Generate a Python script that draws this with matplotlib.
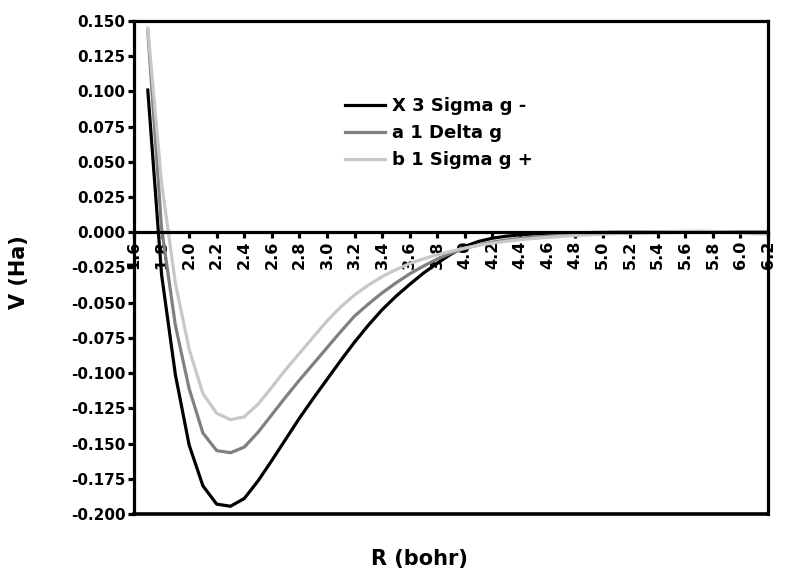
import numpy as np
import matplotlib
matplotlib.use("Agg")
import matplotlib.pyplot as plt

# R grid (bohr) and potential curves (Ha)
R = [1.7, 1.8, 1.9, 2.0, 2.1, 2.2, 2.3, 2.4, 2.5, 2.6,
     2.7, 2.8, 2.9, 3.0, 3.1, 3.2, 3.3, 3.4, 3.5, 3.6,
     3.7, 3.8, 3.9, 4.0, 4.1, 4.2, 4.3, 4.4, 4.5, 4.6,
     4.7, 4.8, 4.9, 5.0, 5.1, 5.2, 5.3, 5.4, 5.5, 5.6,
     5.7, 5.8, 5.9, 6.0, 6.1, 6.2]

X_sigma = [0.101, -0.030, -0.101, -0.151, -0.180, -0.1930, -0.1945, -0.1890, -0.1765, -0.1620,
           -0.1470, -0.1320, -0.1180, -0.1045, -0.0910, -0.0780, -0.0660, -0.0550, -0.0455, -0.0370,
           -0.0290, -0.0220, -0.0155, -0.0100, -0.0065, -0.0042, -0.0028, -0.0018, -0.0012, -0.0008,
           -0.0005, -0.0003, -0.0002, -0.0001, 0.0, 0.0, 0.0, 0.0, 0.0, 0.0,
           0.0, 0.0, 0.0, 0.0, 0.0, 0.0]

a_delta = [0.143, 0.003, -0.066, -0.111, -0.1425, -0.1550, -0.1565, -0.1525, -0.1420, -0.1295,
           -0.1170, -0.1050, -0.0935, -0.0820, -0.0705, -0.0595, -0.0510, -0.0430, -0.0360, -0.0295,
           -0.0240, -0.0190, -0.0148, -0.0115, -0.0090, -0.0070, -0.0055, -0.0043, -0.0034, -0.0027,
           -0.0021, -0.0016, -0.0012, -0.0009, -0.0007, -0.0005, -0.0003, -0.0002, -0.0001, 0.0,
           0.0, 0.0, 0.0, 0.0, 0.0, 0.0]

b_sigma = [0.145, 0.035, -0.036, -0.083, -0.1145, -0.1285, -0.1330, -0.1310, -0.1220, -0.1100,
           -0.0975, -0.0860, -0.0745, -0.0630, -0.0530, -0.0445, -0.0375, -0.0315, -0.0265, -0.0222,
           -0.0188, -0.0160, -0.0135, -0.0112, -0.0093, -0.0077, -0.0064, -0.0053, -0.0044, -0.0036,
           -0.0029, -0.0023, -0.0018, -0.0013, -0.0009, -0.0005, -0.0002, 0.0002, 0.0005, 0.0007,
           0.0008, 0.0006, 0.0002, -0.0004, -0.0010, -0.0012]

labels = ["X 3 Sigma g -", "a 1 Delta g", "b 1 Sigma g +"]
colors = ["#000000", "#808080", "#c8c8c8"]

x_ticks = np.round(np.arange(1.6, 6.21, 0.2), 1)
y_ticks = np.round(np.arange(-0.2, 0.151, 0.025), 3)

plt.rcParams['font.family'] = ['DejaVu Sans']
plt.rcParams['font.weight'] = 'bold'

fig = plt.figure(figsize=(7.85, 5.8), dpi=100)
ax = fig.add_axes([134 / 785, 1 - 514 / 580, 634 / 785, 493 / 580])

# curves drawn over the tick labels, as in the original
for ys, lab, c in zip([X_sigma, a_delta, b_sigma], labels, colors):
    ax.plot(R, ys, color=c, lw=2.3, label=lab, zorder=3)

# x axis crosses at V = 0, frame kept around the plot area
ax.spines['bottom'].set_position(('data', 0))
for s in ax.spines.values():
    s.set_linewidth(2.3)
    s.set_zorder(5)
ax.axhline(-0.2, color='black', lw=2.6, clip_on=False, zorder=5)

ax.set_xlim(1.6, 6.2)
ax.set_ylim(-0.2, 0.15)
ax.set_xticks(x_ticks)
ax.set_xticklabels(["%.1f" % v for v in x_ticks], rotation=90,
                   fontsize=11.5, fontweight='bold')
ax.set_yticks(y_ticks)
ax.set_yticklabels(["%.3f" % (v + 0.0) if abs(v) > 1e-9 else "0.000" for v in y_ticks],
                   fontsize=11, fontweight='bold')
ax.tick_params(axis='both', direction='out', length=4, width=2.3, pad=2)

ax.set_xlabel("R (bohr)", fontsize=15, fontweight='bold')
ax.xaxis.set_label_coords(0.451, -0.071)
ax.set_ylabel("V (Ha)", fontsize=15, fontweight='bold')
ax.yaxis.set_label_coords(-0.166, 0.49)

ax.legend(loc='upper left', bbox_to_anchor=(0.333, 0.846), frameon=False,
          handlelength=2.2, handletextpad=0.4, labelspacing=0.5,
          borderpad=0, borderaxespad=0, prop={'weight': 'bold', 'size': 13})

fig.savefig("out.png", dpi=100)
